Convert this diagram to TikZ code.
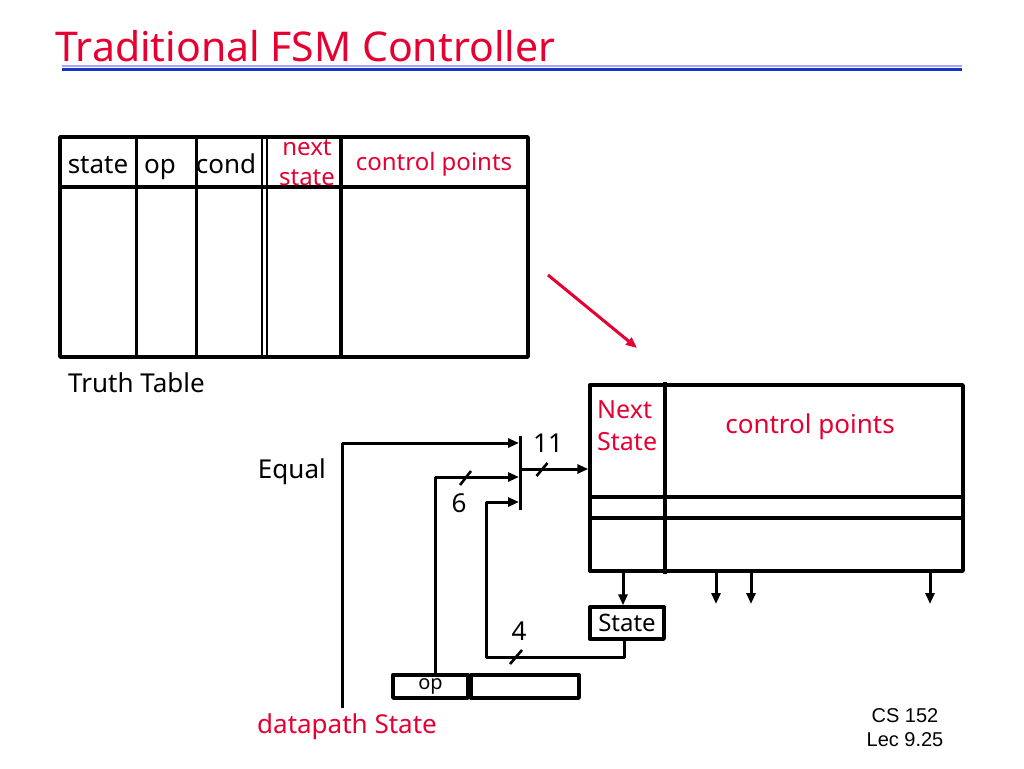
\documentclass[tikz,border=0pt]{standalone}
\usepackage{fontspec}
\setmainfont{Noto Sans}
\newfontfamily\arialfont{Liberation Sans}
\usetikzlibrary{positioning,arrows.meta}
\definecolor{slidered}{RGB}{230,0,50}
\definecolor{ruleblue}{RGB}{25,50,200}
\tikzset{
  box/.style={draw, line width=3.4pt, inner sep=0pt},
  wire/.style={line width=3pt},
  lbl/.style={font=\fontsize{26}{30}\selectfont, inner sep=0pt},
  redlbl/.style={lbl, text=slidered},
}
\begin{document}
\begin{tikzpicture}[x=1pt, y=-1pt, line join=round, >={Triangle[length=11pt,width=9pt]}]
  \useasboundingbox (0,0) rectangle (1024,768);
  % titel
  \node[anchor=base west, text=slidered, font=\fontsize{41}{44}\selectfont, inner sep=0pt] (title) at (55,62) {Traditional FSM Controller};
  \draw[blue!35, line width=1.2pt] (62,66) -- (962,66);
  \draw[ruleblue, line width=2.8pt] (62,69.5) -- (962,69.5);
  % truth table
  \draw[line width=3.4pt] (60,137) rectangle (528,357) (60,187) -- (528,187);
  \foreach \x in {136.5,196.5,341} \draw[line width=3.4pt] (\x,137) -- (\x,357);
  \foreach \x in {262,267} \draw[line width=2.4pt] (\x,137) -- (\x,357);
  \node[lbl, anchor=base] (hstate) at (98,173) {state};
  \node[lbl, anchor=base] (hop) at (160,173) {op};
  \node[lbl, anchor=base] (hcond) at (226,173) {cond};
  \node[redlbl, anchor=base, align=center, font=\fontsize{24}{30}\selectfont] (hnext) at (307,185) {next\\state};
  \node[redlbl, anchor=base, font=\fontsize{24}{30}\selectfont] (hctrl) at (434,170) {control points};
  \node[lbl, anchor=base west] (ttable) at (68,392) {Truth Table};
  \draw[slidered, line width=3pt, ->] (548,275) -- (637,348);
  % ROM
  \node[box, minimum width=373pt, minimum height=186pt] (rom) at (776.5,478) {};
  \draw[line width=3.4pt] (665,382) -- (665,574) (rom.west |- 0,497) -- (rom.east |- 0,497) (rom.west |- 0,518) -- (rom.east |- 0,518);
  \node[redlbl, anchor=base west, align=left, font=\fontsize{25}{32}\selectfont] (rnext) at (597,450) {Next\\State};
  \node[redlbl, anchor=base] (rctrl) at (810,433) {control points};
  % state register + datapath
  \node[box, minimum width=74pt, minimum height=32pt, font=\fontsize{24}{26}\selectfont] (state) at (627,623) {State};
  \node[box, minimum width=75pt, minimum height=23pt, font=\fontsize{20}{22}\selectfont] (opreg) at (430.5,686.5) {op};
  \node[box, minimum width=108pt, minimum height=23pt] (restreg) at (525,686.5) {};
  \node[redlbl, anchor=base] (dpstate) at (347,733) {datapath State};
  \node[lbl, anchor=base east] (equal) at (326,478) {Equal};
  % mux
  \draw[line width=3.4pt] (520.5,436) -- (520.5,510);
  \coordinate (mux1) at (519,443); \coordinate (mux2) at (519,477); \coordinate (mux3) at (519,502);
  \coordinate (muxout) at (521,469); \coordinate (nsout) at (623,573);
  \draw[wire,->] ([xshift=-5pt,yshift=5pt]dpstate.north) |- (mux1);
  \draw[wire,->] ([xshift=4.5pt]opreg.north) |- (mux2);
  \draw[wire,->] ([xshift=-3pt]state.south) |- (486,657) |- (mux3);
  \draw[wire,->] (muxout) -- (rom.west |- muxout);
  \draw[wire,->] (nsout) -- (nsout |- state.north);
  \foreach \x in {716,751,930} \draw[wire,->] (\x,573) -- (\x,604);
  % bus widths
  \draw[line width=2.6pt] (536.5,476) -- (547.5,463) (460,485) -- (471,471) (510,664) -- (522,650);
  \node[lbl, anchor=base] (w11) at (548,452) {11};
  \node[lbl, anchor=base] (w6) at (459,512) {6};
  \node[lbl, anchor=base] (w4) at (519,640) {4};
  \node[font=\arialfont\fontsize{20}{24}\selectfont, align=center, inner sep=0pt, anchor=base] (lec) at (905,746) {CS 152\\Lec 9.25};
\end{tikzpicture}
\end{document}
